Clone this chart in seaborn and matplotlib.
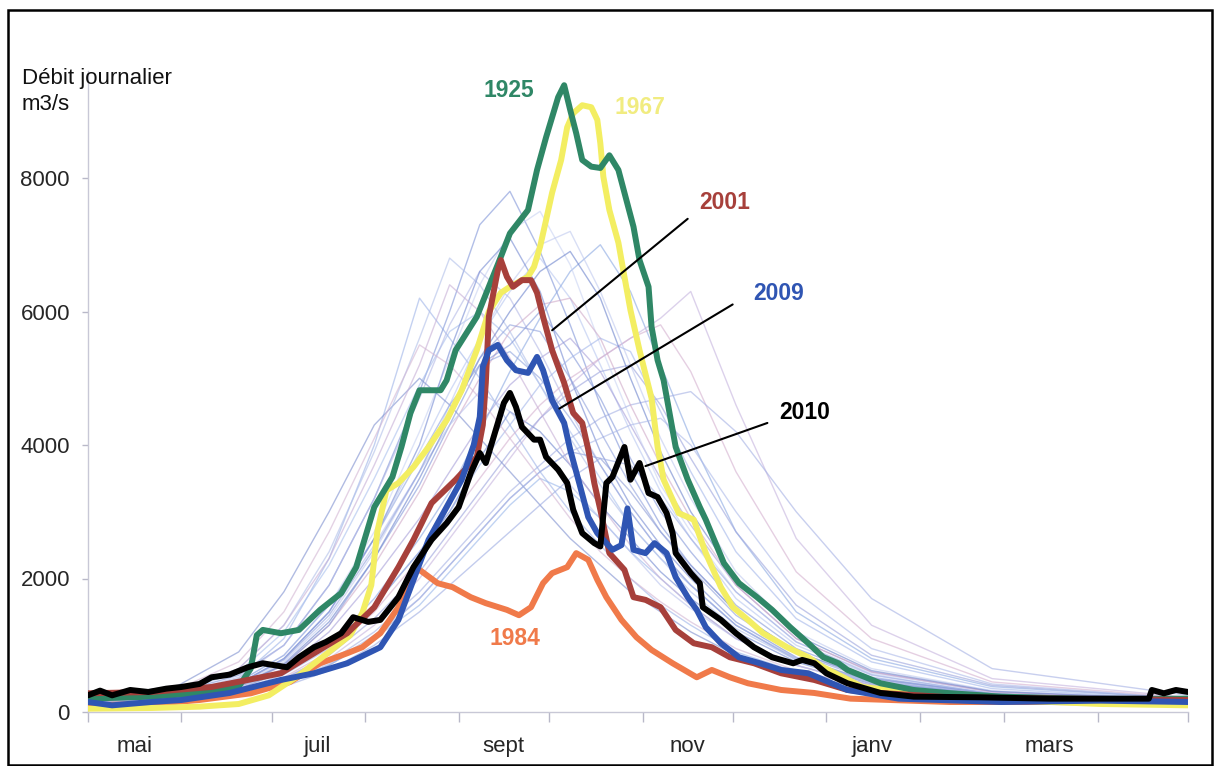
import matplotlib
matplotlib.use("Agg")
import matplotlib.pyplot as plt
import seaborn as sns
import pandas as pd
from matplotlib.patches import Rectangle

# ---------------- data ----------------
MONTH_STARTS = [0, 31, 61, 92, 123, 153, 184, 214, 245, 276, 304, 335, 365]
MONTH_LABEL_POS = [15.5, 76, 138, 199, 260, 319]
MONTH_LABELS = ["mai", "juil", "sept", "nov", "janv", "mars"]
Y_TICKS = [0, 2000, 4000, 6000, 8000]

# background years, sampled on a common day grid (day 0 = 1 May)
BG_DAYS = [0, 30, 50, 65, 80, 95, 110, 120, 130, 140, 150, 160, 170, 180, 190, 200, 215, 235, 260, 300, 365]
bg01 = [150, 250, 500, 1100, 2300, 4000, 6200, 5600, 5000, 4300, 3600, 3000, 2500, 2000, 1600, 1300, 900, 600, 380, 220, 150]
bg02 = [200, 300, 550, 1000, 1900, 3200, 4800, 6000, 7300, 7800, 6900, 5800, 4600, 3600, 2800, 2200, 1500, 900, 500, 280, 180]
bg03 = [180, 260, 420, 800, 1500, 2600, 3900, 4800, 5600, 6300, 6800, 6200, 5200, 4200, 3300, 2600, 1700, 1000, 550, 280, 170]
bg04 = [150, 220, 380, 650, 1200, 2000, 2900, 3600, 4300, 4900, 5300, 5600, 5100, 4300, 3500, 2800, 1900, 1100, 600, 300, 180]
bg05 = [160, 240, 380, 600, 1000, 1700, 2600, 3300, 4200, 5100, 5900, 6600, 7000, 6300, 5200, 4100, 2700, 1500, 800, 380, 200]
bg06 = [150, 200, 300, 500, 800, 1300, 2000, 2600, 3200, 3800, 4400, 4900, 5300, 5600, 5900, 6300, 4600, 2600, 1300, 500, 220]
bg07 = [120, 200, 350, 600, 1000, 1600, 2400, 3000, 3800, 4500, 4200, 3700, 3100, 2600, 2100, 1700, 1200, 750, 420, 230, 150]
bg08 = [180, 300, 600, 1200, 2200, 3500, 4900, 5700, 6000, 5600, 4900, 4200, 3500, 2800, 2300, 1900, 1300, 800, 450, 250, 160]
bg09 = [140, 200, 300, 500, 850, 1400, 2100, 2700, 3300, 3900, 4400, 4800, 5100, 5200, 4600, 3800, 2700, 1600, 850, 400, 200]
bg10 = [200, 280, 450, 850, 1600, 2700, 4200, 5300, 6400, 7200, 7500, 6700, 5500, 4400, 3400, 2700, 1800, 1050, 580, 300, 190]
bg11 = [120, 170, 260, 420, 700, 1100, 1700, 2200, 2700, 3200, 3600, 3900, 3800, 3300, 2700, 2200, 1500, 900, 500, 260, 150]
bg12 = [170, 280, 520, 1000, 1900, 3200, 4700, 5800, 6600, 6200, 5400, 4500, 3700, 3000, 2400, 1900, 1300, 800, 440, 240, 160]
bg13 = [150, 210, 320, 520, 900, 1500, 2300, 2900, 3500, 4100, 4600, 5000, 5300, 5600, 5800, 5100, 3600, 2100, 1100, 450, 210]
bg14 = [110, 160, 250, 420, 700, 1100, 1600, 2100, 2600, 3100, 3500, 3300, 2900, 2400, 2000, 1600, 1100, 700, 400, 220, 140]
bg15 = [200, 400, 900, 1800, 3000, 4300, 5000, 4600, 4100, 3600, 3100, 2600, 2200, 1800, 1500, 1200, 850, 550, 350, 210, 150]
bg16 = [180, 250, 400, 750, 1400, 2400, 3600, 4600, 5600, 6400, 7000, 7200, 6300, 5200, 4100, 3200, 2100, 1200, 650, 320, 190]
bg17 = [140, 190, 280, 450, 750, 1200, 1800, 2300, 2800, 3300, 3700, 4100, 4400, 4600, 4700, 4800, 4200, 3000, 1700, 650, 250]
bg18 = [160, 230, 380, 700, 1300, 2200, 3300, 4200, 5000, 5700, 6100, 6200, 5600, 4600, 3700, 2900, 1900, 1100, 600, 300, 180]
bg19 = [160, 250, 450, 850, 1600, 2600, 3800, 4600, 5200, 5400, 5000, 4400, 3700, 3000, 2400, 1900, 1300, 780, 430, 240, 160]
bg20 = [190, 320, 650, 1300, 2400, 3900, 5600, 6800, 6400, 5700, 4900, 4100, 3400, 2800, 2300, 1800, 1250, 780, 430, 240, 160]
bg21 = [170, 240, 400, 700, 1300, 2300, 3400, 4300, 5200, 5500, 6000, 5400, 4700, 3800, 3000, 2400, 1600, 950, 520, 270, 170]
bg22 = [150, 230, 420, 800, 1500, 2500, 3600, 4300, 4800, 4500, 4000, 3400, 2900, 2400, 1900, 1550, 1100, 700, 400, 220, 150]
bg23 = [190, 260, 420, 800, 1500, 2600, 4000, 5400, 6600, 7100, 6300, 5000, 3900, 3100, 2500, 2000, 1350, 820, 460, 250, 170]
bg24 = [150, 210, 330, 560, 950, 1600, 2400, 3000, 3700, 4300, 4900, 5300, 5600, 5400, 4500, 3600, 2400, 1400, 750, 350, 190]
bg25 = [180, 320, 650, 1300, 2300, 3700, 5200, 6400, 6000, 5300, 4500, 3700, 3100, 2500, 2000, 1600, 1100, 700, 400, 230, 160]
bg26 = [110, 150, 230, 380, 620, 1000, 1500, 1900, 2300, 2700, 3100, 3500, 3800, 3700, 3200, 2600, 1800, 1050, 560, 270, 150]
bg27 = [170, 240, 390, 720, 1350, 2300, 3500, 4400, 5300, 6000, 6600, 6900, 6200, 5000, 3900, 3000, 2000, 1150, 620, 310, 185]
bg28 = [190, 350, 750, 1500, 2700, 4100, 5500, 5200, 4700, 4100, 3500, 2900, 2400, 2000, 1650, 1350, 950, 620, 370, 220, 150]
bg29 = [130, 180, 270, 440, 720, 1150, 1700, 2200, 2700, 3200, 3600, 3900, 4100, 4300, 4400, 4000, 3000, 1800, 950, 420, 200]
bg30 = [160, 240, 420, 780, 1450, 2450, 3600, 4500, 5300, 5800, 5700, 5000, 4200, 3400, 2700, 2150, 1450, 870, 480, 250, 165]

# highlighted years: (day, daily flow m3/s)
flow_1925 = [(0, 200), (21, 230), (37, 280), (50, 380), (54, 650), (56, 1150), (58, 1230), (64, 1180), (70, 1230),
             (77, 1530), (84, 1780), (89, 2170), (91, 2470), (95, 3070), (97, 3220), (101, 3520), (104, 3970),
             (107, 4480), (110, 4820), (117, 4820), (119, 4970), (122, 5420), (129, 5920), (137, 6820), (140, 7170),
             (146, 7520), (149, 8120), (152, 8610), (156, 9210), (158, 9390), (160, 9020), (162, 8670), (164, 8270),
             (167, 8170), (170, 8150), (173, 8340), (176, 8120), (178, 7780), (181, 7270), (183, 6770), (186, 6370),
             (187, 5770), (189, 5270), (191, 4970), (195, 3970), (199, 3480), (203, 3070), (205, 2880), (211, 2230),
             (216, 1930), (222, 1720), (227, 1530), (233, 1270), (239, 1030), (244, 820), (249, 730), (252, 630),
             (263, 430), (274, 330), (285, 285), (303, 230), (336, 190), (365, 200)]
flow_1967 = [(0, 50), (21, 60), (37, 80), (50, 120), (60, 250), (70, 550), (80, 900), (87, 1150), (91, 1480),
             (94, 1900), (96, 2700), (99, 3320), (103, 3430), (108, 3670), (113, 3970), (119, 4370), (124, 4820),
             (129, 5420), (133, 6000), (137, 6280), (140, 6370), (146, 6520), (148, 6670), (150, 6970), (152, 7370),
             (154, 7780), (157, 8270), (159, 8760), (161, 8970), (164, 9090), (167, 9060), (169, 8870), (170, 8520),
             (171, 8020), (173, 7520), (176, 7030), (178, 6520), (180, 6020), (183, 5420), (187, 4700), (189, 3970),
             (191, 3480), (196, 2980), (201, 2880), (205, 2380), (210, 1870), (214, 1570), (219, 1380), (224, 1180),
             (232, 970), (239, 820), (244, 670), (257, 375), (274, 285), (303, 180), (336, 120), (365, 100)]
flow_2001 = [(0, 280), (21, 300), (41, 375), (53, 480), (64, 580), (75, 880), (86, 1180), (95, 1570), (103, 2170),
             (108, 2580), (114, 3130), (122, 3480), (129, 3820), (131, 4300), (132, 4930), (133, 5920), (136, 6620),
             (137, 6770), (139, 6520), (141, 6370), (144, 6470), (147, 6470), (149, 6280), (151, 5920), (154, 5420),
             (158, 4930), (161, 4480), (164, 4330), (166, 3930), (168, 3430), (170, 3030), (173, 2380), (178, 2130),
             (181, 1720), (185, 1680), (190, 1570), (195, 1230), (201, 1030), (207, 970), (213, 820), (221, 730),
             (230, 580), (241, 480), (252, 330), (263, 285), (286, 220), (319, 200), (365, 180)]
flow_2009 = [(0, 150), (8, 100), (21, 150), (31, 180), (47, 285), (64, 480), (75, 580), (86, 730), (97, 970),
             (103, 1380), (108, 1980), (113, 2580), (119, 3070), (124, 3480), (128, 4000), (130, 4420), (131, 5170),
             (133, 5420), (136, 5500), (139, 5270), (142, 5120), (146, 5080), (149, 5320), (151, 5120), (154, 4670),
             (158, 4330), (160, 3930), (163, 3430), (166, 2920), (169, 2680), (172, 2530), (174, 2430), (177, 2500),
             (179, 3050), (181, 2430), (185, 2380), (188, 2530), (192, 2380), (195, 2020), (199, 1720), (202, 1530),
             (205, 1270), (210, 1030), (216, 820), (223, 730), (230, 630), (239, 580), (252, 330), (269, 200),
             (303, 150), (336, 170), (365, 150)]
flow_2010 = [(0, 250), (4, 320), (8, 250), (14, 330), (20, 300), (26, 350), (31, 375), (37, 420), (41, 520),
             (47, 560), (53, 670), (58, 730), (62, 700), (66, 670), (70, 820), (75, 970), (79, 1050), (84, 1180),
             (88, 1420), (93, 1350), (97, 1380), (103, 1720), (108, 2170), (114, 2580), (119, 2830), (123, 3070),
             (127, 3580), (130, 3880), (132, 3730), (134, 4030), (138, 4630), (140, 4780), (142, 4570), (144, 4270),
             (148, 4080), (150, 4080), (152, 3820), (156, 3630), (159, 3430), (161, 3030), (164, 2680), (168, 2530),
             (170, 2480), (172, 3430), (174, 3520), (178, 3970), (180, 3480), (183, 3730), (186, 3280), (189, 3220),
             (192, 2980), (194, 2680), (195, 2380), (200, 2080), (203, 1930), (204, 1570), (210, 1380), (215, 1180),
             (221, 970), (227, 820), (234, 730), (237, 780), (241, 730), (245, 580), (252, 430), (263, 285),
             (274, 230), (296, 220), (319, 200), (342, 200), (352, 200), (353, 330), (357, 280), (361, 330), (365, 300)]
flow_1984 = [(0, 100), (21, 120), (37, 180), (54, 280), (67, 450), (77, 730), (86, 880), (91, 970), (97, 1180),
             (103, 1570), (108, 2080), (110, 2130), (116, 1930), (121, 1870), (127, 1720), (132, 1630), (139, 1530),
             (143, 1450), (147, 1570), (151, 1930), (154, 2080), (159, 2170), (162, 2380), (166, 2280), (169, 1980),
             (172, 1720), (177, 1380), (182, 1120), (187, 930), (194, 730), (202, 520), (207, 630), (213, 520),
             (219, 430), (230, 330), (241, 285), (253, 200), (286, 150), (319, 150), (365, 130)]

# label positions (day, flow) and leader lines
LABELS = [("1925", 139.6, 9318), ("1967", 183.0, 9063), ("2001", 211.3, 7640),
          ("2009", 229.0, 6277), ("2010", 237.9, 4494), ("1984", 141.7, 1108)]
LEADERS = {"2001": ((199.7, 7415), (153.3, 5692)),
           "2009": ((214.7, 6127), (155.6, 4524)),
           "2010": ((226.3, 4344), (184.1, 3670))}

# ---------------- style ----------------
COLORS = {"1925": "#2f8766", "1967": "#f3ee62", "2001": "#a7403b",
          "2009": "#2f55b3", "2010": "#000000", "1984": "#f07a4a"}
LABEL_COLORS = {"1925": "#2f8766", "1967": "#f1ec80", "2001": "#a7403b",
                "2009": "#2f55b3", "2010": "#000000", "1984": "#f07a4a"}
BG_COLORS = ['#9db3e8', '#7f94d8', '#b7c6f0', '#a79fd9', '#8aa8e2', '#c5b3de', '#6f86cf', '#a9c0ee',
             '#9aa2dc', '#c9d3f3', '#8c9bd6', '#b3b8e6', '#d4b0cf', '#98b6ea', '#7d8fcf', '#bfc9ef',
             '#a4b0e4', '#cfa9c8', '#8fa4de', '#b0bfe9', '#8297d9', '#b9c3ee', '#7489d2', '#a3b6ea',
             '#c6aed6', '#9cabe2', '#6b82cc', '#d2b5d3', '#acb9e9', '#8fa0dc']

sns.set_theme(style="white")
plt.rcParams['font.family'] = ['Liberation Sans', 'DejaVu Sans']

W, H = 1218, 766
fig = plt.figure(figsize=(W / 100, H / 100), dpi=100)
ax = fig.add_axes([88 / W, 54 / H, 1100 / W, 640.8 / H])

bg_series = [bg01, bg02, bg03, bg04, bg05, bg06, bg07, bg08, bg09, bg10,
             bg11, bg12, bg13, bg14, bg15, bg16, bg17, bg18, bg19, bg20,
             bg21, bg22, bg23, bg24, bg25, bg26, bg27, bg28, bg29, bg30]
bg_df = pd.concat([pd.DataFrame({"jour": BG_DAYS, "debit": v, "annee": f"bg{i:02d}"})
                   for i, v in enumerate(bg_series)], ignore_index=True)
sns.lineplot(data=bg_df, x="jour", y="debit", hue="annee", palette=BG_COLORS,
             estimator=None, legend=False, lw=1.0, alpha=0.6, ax=ax, zorder=1)

highlight = [("1984", flow_1984), ("1967", flow_1967), ("1925", flow_1925),
             ("2001", flow_2001), ("2009", flow_2009), ("2010", flow_2010)]
for z, (yr, pts) in enumerate(highlight):
    d, q = zip(*pts)
    sns.lineplot(x=list(d), y=list(q), color=COLORS[yr], lw=4.3, estimator=None,
                 sort=False, ax=ax, zorder=3 + z, solid_joinstyle="round")

for yr, xd, yv in LABELS:
    ax.text(xd, yv, yr, color=LABEL_COLORS[yr], fontsize=16.5, fontweight="bold",
            ha="center", va="center", zorder=20)
for yr, (p0, p1) in LEADERS.items():
    ax.annotate("", xy=p1, xytext=p0,
                arrowprops=dict(arrowstyle="-", color="black", lw=1.5), zorder=20)

ax.set_xlim(0, 365)
ax.set_ylim(0, 9600)
ax.set_xlabel("")
ax.set_ylabel("")
ax.set_xticks(MONTH_STARTS, minor=True)
ax.set_xticks(MONTH_LABEL_POS)
ax.set_xticklabels(MONTH_LABELS)
ax.set_yticks(Y_TICKS)
ax.set_yticklabels([str(v) for v in Y_TICKS])
ax.tick_params(axis="x", which="major", length=0, pad=17, labelsize=16, bottom=False)
ax.tick_params(axis="x", which="minor", length=7, width=1, color="#b8b8c8", direction="out", bottom=True)
ax.tick_params(axis="y", which="major", length=4, width=1, color="#b8b8c8", direction="out",
               pad=9, labelsize=16, left=True)
for side in ("top", "right"):
    ax.spines[side].set_visible(False)
for side in ("left", "bottom"):
    ax.spines[side].set_color("#c8c8d6")
    ax.spines[side].set_linewidth(1.0)
ax.grid(False)

fig.text(22 / W, 1 - 68 / H, "Débit journalier\nm3/s", fontsize=16, ha="left", va="top",
         linespacing=1.3, color="#111111")

fig.add_artist(Rectangle((8 / W, 1 / H), (1212 - 8) / W, (756 - 1) / H, transform=fig.transFigure,
                         fill=False, lw=1.8, ec="black"))

fig.savefig("out.png", dpi=100)
